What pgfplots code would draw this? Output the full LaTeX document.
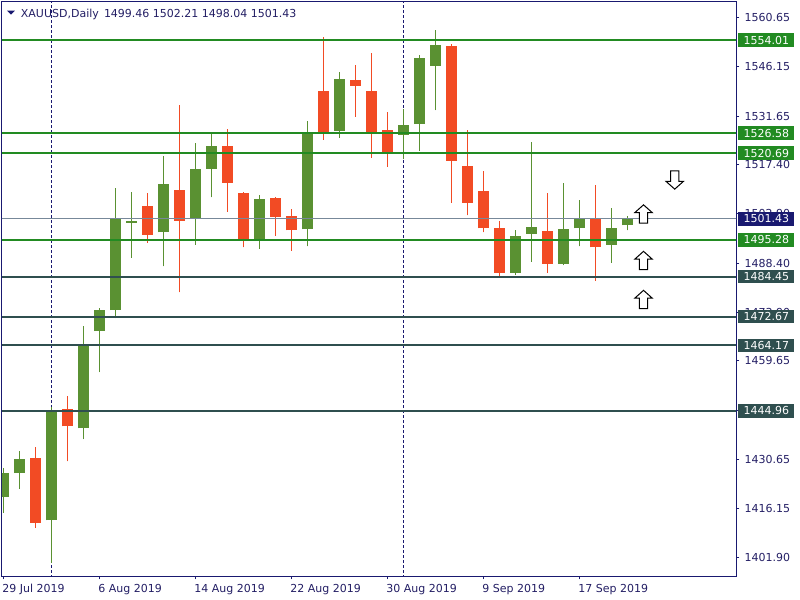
\documentclass[border=0pt]{standalone}
\usepackage{fontspec}
\setmainfont{DejaVu Sans}
\usepackage{pgfplots}
\usepackage{pgfplotstable}
\pgfplotsset{compat=1.18}
\definecolor{bull}{RGB}{90,145,50}
\definecolor{bear}{RGB}{242,75,36}
\definecolor{lvlg}{RGB}{34,139,34}
\definecolor{lvld}{RGB}{47,79,79}
\definecolor{bidc}{RGB}{119,136,153}
\definecolor{mtnavy}{RGB}{25,25,112}
\definecolor{mttext}{RGB}{35,30,100}
\newcommand{\mtfont}{\fontsize{8.25pt}{10pt}\selectfont}

\pgfplotstableread{
i o h l c
0 1419.5 1428.1 1415.0 1426.8
1 1426.6 1433.2 1422.1 1430.9
3 1412.7 1446.1 1400.3 1445.0
5 1439.8 1469.8 1436.6 1463.9
6 1468.4 1475.1 1456.3 1474.5
7 1474.6 1510.5 1472.2 1501.3
8 1500.3 1509.4 1489.9 1500.8
10 1497.4 1520.0 1487.4 1511.7
12 1501.4 1523.8 1493.8 1516.1
13 1516.1 1527.0 1507.7 1522.8
16 1495.5 1508.5 1492.6 1507.3
19 1498.3 1530.2 1493.3 1526.6
21 1527.3 1544.6 1525.3 1542.6
25 1526.2 1533.7 1519.0 1529.1
26 1529.3 1549.7 1521.4 1548.8
27 1546.4 1557.0 1533.4 1552.6
32 1485.6 1498.2 1485.0 1496.4
33 1497.1 1524.0 1488.8 1499.1
35 1488.2 1512.0 1487.8 1498.5
36 1498.6 1507.0 1493.3 1501.4
38 1493.8 1504.7 1488.5 1498.8
39 1499.46 1502.21 1498.04 1501.43
}\bulltab

\pgfplotstableread{
i o h l c
2 1431.2 1434.4 1410.6 1412.1
4 1445.6 1449.2 1430.1 1440.4
9 1505.3 1509.1 1494.4 1496.7
11 1510.0 1535.0 1479.8 1500.9
14 1522.8 1527.8 1503.5 1512.0
15 1509.1 1509.4 1493.0 1495.5
17 1507.6 1507.9 1496.5 1502.1
18 1502.3 1504.4 1492.1 1498.0
20 1539.0 1554.9 1524.7 1527.1
22 1542.3 1546.7 1531.4 1540.5
23 1539.0 1550.2 1519.4 1526.7
24 1527.6 1532.9 1516.8 1520.5
28 1552.3 1552.9 1506.2 1518.5
29 1517.0 1527.6 1502.4 1506.2
30 1509.7 1515.6 1497.4 1498.6
31 1498.8 1500.8 1484.2 1485.6
34 1497.9 1509.1 1485.6 1488.2
37 1501.7 1511.4 1483.2 1493.0
}\beartab

\pgfdeclareplotmark{upar}{%
  \pgfpathmoveto{\pgfqpoint{0pt}{6.86pt}}%
  \pgfpathlineto{\pgfqpoint{6.5pt}{1.06pt}}%
  \pgfpathlineto{\pgfqpoint{3.1pt}{1.06pt}}%
  \pgfpathlineto{\pgfqpoint{3.1pt}{-6.86pt}}%
  \pgfpathlineto{\pgfqpoint{-3.1pt}{-6.86pt}}%
  \pgfpathlineto{\pgfqpoint{-3.1pt}{1.06pt}}%
  \pgfpathlineto{\pgfqpoint{-6.5pt}{1.06pt}}%
  \pgfpathclose
  \pgfusepathqfillstroke}
\pgfdeclareplotmark{dnar}{%
  \pgfpathmoveto{\pgfqpoint{0pt}{-6.86pt}}%
  \pgfpathlineto{\pgfqpoint{6.5pt}{-1.06pt}}%
  \pgfpathlineto{\pgfqpoint{3.1pt}{-1.06pt}}%
  \pgfpathlineto{\pgfqpoint{3.1pt}{6.86pt}}%
  \pgfpathlineto{\pgfqpoint{-3.1pt}{6.86pt}}%
  \pgfpathlineto{\pgfqpoint{-3.1pt}{-1.06pt}}%
  \pgfpathlineto{\pgfqpoint{-6.5pt}{-1.06pt}}%
  \pgfpathclose
  \pgfusepathqfillstroke}

\pgfplotsset{candle/.style={only marks, mark size=0pt, mark options={draw=none, fill=none}, forget plot,
  error bars/.cd, y dir=plus, y explicit, error mark=none}}

\begin{document}
\begin{tikzpicture}
\begin{axis}[name=ax, at={(0,0)}, anchor=south west,
  scale only axis, width=550.5pt, height=430.5pt,
  xmin=-0.094, xmax=45.78, ymin=1396.37, ymax=1565.19,
  clip mode=individual,
  axis line style={mtnavy, line width=0.75pt},
  tick style={mtnavy, line width=0.75pt},
  tick align=outside, major tick length=2.6pt,
  xtick pos=bottom, ytick pos=right, yticklabel pos=right,
  xtick={0,6,12,18,24,30,36},
  xticklabels={29 Jul 2019, 6 Aug 2019, 14 Aug 2019, 22 Aug 2019, 30 Aug 2019, 9 Sep 2019, 17 Sep 2019},
  ytick={1560.65,1546.15,1531.65,1517.40,1502.90,1488.40,1473.90,1459.65,1445.15,1430.65,1416.15,1401.90},
  yticklabels={1560.65,1546.15,1531.65,1517.40,1502.90,1488.40,1473.90,1459.65,{},1430.65,1416.15,1401.90},
  xticklabel style={anchor=base west, inner sep=0pt, font=\mtfont, text=mttext, yshift=-10pt, xshift=-1pt},
  yticklabel style={anchor=west, inner sep=0pt, font=\mtfont, text=mttext, xshift=3.6pt},
]
% period separators
\addplot[mtnavy, line width=0.75pt, dash pattern=on 2.25pt off 1.5pt, forget plot] coordinates {(3,1390) (3,1570)};
\addplot[mtnavy, line width=0.75pt, dash pattern=on 2.25pt off 1.5pt, forget plot] coordinates {(25,1390) (25,1570)};
% wicks
\addplot[candle, error bar style={draw=bull, line width=0.75pt}]
  table[x=i, y=l, y error expr=\thisrow{h}-\thisrow{l}] {\bulltab};
\addplot[candle, error bar style={draw=bear, line width=0.75pt}]
  table[x=i, y=l, y error expr=\thisrow{h}-\thisrow{l}] {\beartab};
% bodies
\addplot[candle, error bar style={draw=bull, line width=8.25pt}]
  table[x=i, y=o, y error expr=\thisrow{c}-\thisrow{o}] {\bulltab};
\addplot[candle, error bar style={draw=bear, line width=8.25pt}]
  table[x=i, y=c, y error expr=\thisrow{o}-\thisrow{c}] {\beartab};
% bid line
\addplot[bidc, line width=0.75pt, forget plot] coordinates {(-1,1501.43) (50,1501.43)};
% levels
\addplot[lvlg, line width=1.5pt, forget plot] coordinates {(-1,1554.01) (50,1554.01)};
\addplot[lvlg, line width=1.5pt, forget plot] coordinates {(-1,1526.58) (50,1526.58)};
\addplot[lvlg, line width=1.5pt, forget plot] coordinates {(-1,1520.69) (50,1520.69)};
\addplot[lvlg, line width=1.5pt, forget plot] coordinates {(-1,1495.28) (50,1495.28)};
\addplot[lvld, line width=1.5pt, forget plot] coordinates {(-1,1484.45) (50,1484.45)};
\addplot[lvld, line width=1.5pt, forget plot] coordinates {(-1,1472.67) (50,1472.67)};
\addplot[lvld, line width=1.5pt, forget plot] coordinates {(-1,1464.17) (50,1464.17)};
\addplot[lvld, line width=1.5pt, forget plot] coordinates {(-1,1444.96) (50,1444.96)};
% arrows
\addplot[only marks, mark=upar, mark options={fill=white, draw=black, line width=0.75pt}, forget plot]
  coordinates {(40,1502.84) (40,1489.16) (40,1477.69)};
\addplot[only marks, mark=dnar, mark options={fill=white, draw=black, line width=0.75pt}, forget plot]
  coordinates {(41.95,1512.84)};
% level labels
\foreach \p/\c in {1554.01/lvlg,1526.58/lvlg,1520.69/lvlg,1495.28/lvlg,1484.45/lvld,1472.67/lvld,1464.17/lvld,1444.96/lvld,1501.43/mtnavy}{
  \edef\tmp{\noexpand\node[fill=\c, text=white, anchor=west, xshift=1.5pt, minimum width=42pt, minimum height=10.3pt, inner sep=0pt, font=\noexpand\mtfont] at (axis cs:45.78,\p) {\p};}
  \tmp
}
\end{axis}
\fill[mtnavy] ([shift={(3.75pt,-6.5pt)}]ax.north west) -- ([shift={(9.75pt,-6.5pt)}]ax.north west) -- ([shift={(6.75pt,-9.5pt)}]ax.north west) -- cycle;
\node[anchor=base west, inner sep=0pt, text=mttext, font=\mtfont] at ([shift={(14pt,-11.5pt)}]ax.north west) {XAUUSD,Daily};
\node[anchor=base west, inner sep=0pt, text=mttext, font=\mtfont] at ([shift={(76.3pt,-11.5pt)}]ax.north west) {1499.46 1502.21 1498.04 1501.43};
\pgfresetboundingbox
\path ([shift={(-1.5pt,-18pt)}]ax.south west) rectangle ([shift={(48pt,1.5pt)}]ax.north east);
\end{tikzpicture}
\end{document}
